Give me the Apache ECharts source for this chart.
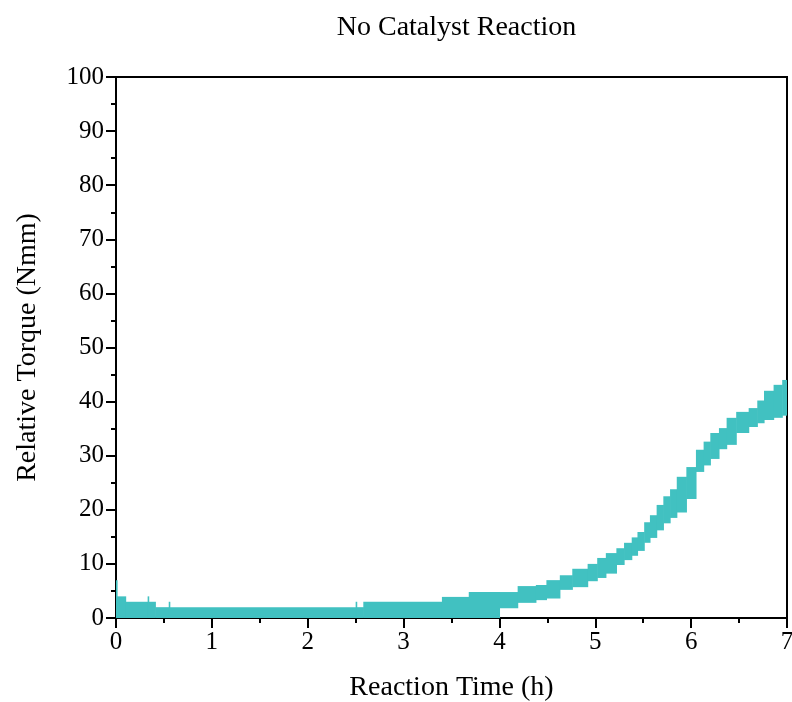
<!DOCTYPE html>
<html>
<head>
<meta charset="utf-8">
<script src="https://cdn.jsdelivr.net/npm/echarts@6/dist/echarts.min.js"></script>
<style>
  html, body { margin: 0; padding: 0; background: #fff; }
  #chart { width: 792px; height: 702px; }
</style>
</head>
<body>
<div id="chart"></div>
<script>
// Torque band over reaction time: each row holds from its start time until the next one.
const timeH = [0.00, 0.01, 0.10, 0.33, 0.34, 0.41, 0.55, 0.56, 2.50, 2.51, 2.58, 3.40, 3.68, 4.00, 4.19, 4.38, 4.49, 4.63, 4.76, 4.92, 5.02, 5.11, 5.22, 5.30, 5.38, 5.44, 5.51, 5.57, 5.64, 5.71, 5.78, 5.85, 5.95, 6.05, 6.13, 6.20, 6.29, 6.37, 6.47, 6.60, 6.69, 6.76, 6.86, 6.95, 7.00];
const torqueLow = [0, 0, 0, 0, 0, 0, 0, 0, 0, 0, 0, 0, 0, 1.8, 2.8, 3.3, 3.6, 5.2, 5.7, 6.8, 7.4, 8.2, 9.8, 10.7, 11.5, 12.4, 13.9, 14.8, 16.2, 17.5, 18.5, 19.5, 22.0, 27.0, 28.2, 29.4, 31.2, 32.0, 34.2, 35.3, 36.0, 36.6, 37.0, 37.4, 37.4];
const torqueHigh = [7.0, 4.0, 3.0, 4.0, 3.0, 2.0, 3.0, 2.0, 3.0, 2.0, 3.0, 3.9, 4.8, 4.8, 5.9, 6.1, 7.0, 7.9, 9.1, 10.0, 11.1, 12.0, 12.9, 13.9, 14.9, 15.9, 17.7, 19.0, 20.9, 22.5, 23.8, 26.1, 27.9, 31.1, 32.6, 34.2, 35.1, 37.0, 38.1, 38.8, 40.2, 42.0, 43.1, 44.0, 44.0];

const xTicks = [0, 1, 2, 3, 4, 5, 6, 7];
const yTicks = [0, 10, 20, 30, 40, 50, 60, 70, 80, 90, 100];

const bandColor = '#41c1c1';
const serif = '"Liberation Serif", "DejaVu Serif", serif';

// One segment per row, from its own time to the next row's time.
const bandData = [];
for (let i = 0; i < timeH.length - 1; i++) {
  bandData.push([timeH[i], timeH[i + 1], torqueLow[i], torqueHigh[i]]);
}

const chart = echarts.init(document.getElementById('chart'), null, { renderer: 'canvas' });

chart.setOption({
  animation: false,
  backgroundColor: '#ffffff',
  title: {
    text: 'No Catalyst Reaction',
    left: 451.5,
    textAlign: 'center',
    top: 9,
    textStyle: { fontFamily: serif, fontWeight: 'normal', fontSize: 28, color: '#000' }
  },
  grid: {
    left: 116, right: 5, top: 77, bottom: 84,
    containLabel: false,
    outerBoundsMode: 'none',
    show: true, borderColor: '#000', borderWidth: 2, backgroundColor: 'transparent'
  },
  xAxis: {
    type: 'value',
    min: xTicks[0], max: xTicks[xTicks.length - 1], interval: 1,
    name: 'Reaction Time (h)',
    nameLocation: 'middle',
    nameGap: 56,
    nameTextStyle: { fontFamily: serif, fontSize: 28, color: '#000' },
    axisLine: { show: true, lineStyle: { color: '#000', width: 2 } },
    axisTick: { show: true, inside: false, length: 10, lineStyle: { color: '#000', width: 2 } },
    minorTick: { show: true, splitNumber: 2, length: 5, lineStyle: { color: '#000', width: 2 } },
    axisLabel: { fontFamily: serif, fontSize: 25, color: '#000', margin: 12 },
    splitLine: { show: false }
  },
  yAxis: {
    type: 'value',
    min: yTicks[0], max: yTicks[yTicks.length - 1], interval: 10,
    name: 'Relative Torque (Nmm)',
    nameLocation: 'middle',
    nameGap: 74,
    nameTextStyle: { fontFamily: serif, fontSize: 28, color: '#000' },
    axisLine: { show: true, lineStyle: { color: '#000', width: 2 } },
    axisTick: { show: true, inside: false, length: 10, lineStyle: { color: '#000', width: 2 } },
    minorTick: { show: true, splitNumber: 2, length: 5, lineStyle: { color: '#000', width: 2 } },
    axisLabel: { fontFamily: serif, fontSize: 25, color: '#000', margin: 12 },
    splitLine: { show: false }
  },
  series: [{
    type: 'custom',
    data: bandData,
    encode: { x: [0, 1], y: [2, 3] },
    clip: true,
    z: 1,
    renderItem: function (params, api) {
      const p0 = api.coord([api.value(0), api.value(3)]);
      const p1 = api.coord([api.value(1), api.value(2)]);
      return {
        type: 'rect',
        shape: { x: p0[0], y: p0[1], width: Math.max(p1[0] - p0[0], 1) + 0.6, height: p1[1] - p0[1] },
        style: { fill: bandColor }
      };
    }
  }]
});
</script>
</body>
</html>
